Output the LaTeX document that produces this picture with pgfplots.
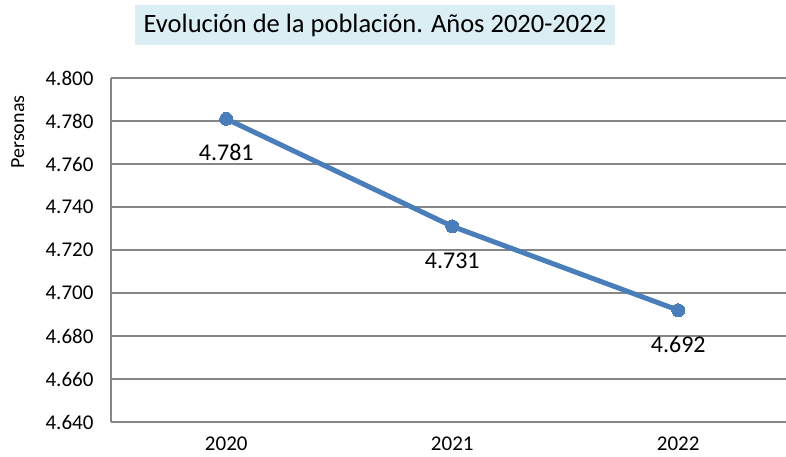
\documentclass[border=0pt]{standalone}
\usepackage{pgfplots}
\pgfplotsset{compat=1.18}
\usepackage{fontspec}
\setmainfont{Carlito}
\definecolor{linecol}{HTML}{4A7EBB}
\definecolor{gridcol}{HTML}{868686}
\definecolor{titlebg}{HTML}{DBEEF4}
\begin{document}
\begin{tikzpicture}
\useasboundingbox (-111pt,-35pt) rectangle (675pt,422pt);
\node[fill=titlebg, minimum width=480pt, minimum height=40pt, inner sep=0pt,
      font=\fontsize{26.5}{30}\selectfont] at (264pt,397pt) {Evolución de la población. Años 2020-2022};
\begin{axis}[
  at={(0pt,0pt)}, anchor=south west,
  scale only axis, width=675.7pt, height=344pt,
  xmin=-0.51, xmax=2.48, ymin=4640, ymax=4800,
  xtick={0,1,2}, xticklabels={2020,2021,2022},
  ytick={4640,4660,...,4800},
  ymajorgrids, grid style={gridcol, line width=2pt},
  axis x line*=bottom, axis y line*=left,
  axis line style={gridcol, line width=2pt, -},
  major tick length=0pt,
  tick label style={font=\fontsize{21}{24}\selectfont, text=black},
  yticklabel style={xshift=-14pt},
  xticklabel style={yshift=-11pt},
  scaled y ticks=false,
  /pgf/number format/1000 sep={.},
  /pgf/number format/assume math mode=true,
  ylabel={Personas},
  ylabel style={at={(axis description cs:-0.138,0.843)}, anchor=center, font=\fontsize{20}{23}\selectfont},
  nodes near coords,
  every node near coord/.append style={font=\fontsize{24}{28}\selectfont, text=black, anchor=center, yshift=-34pt},
  clip=false,
]
\addplot[linecol, line width=5pt, line cap=round, line join=round,
  mark=*, mark size=6.5pt, mark options={fill=linecol, draw=linecol, line width=0pt}]
  coordinates {(0,4781) (1,4731) (2,4692)};
\end{axis}
\end{tikzpicture}
\end{document}
